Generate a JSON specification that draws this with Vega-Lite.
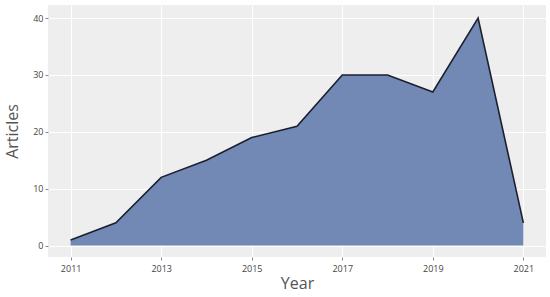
{
  "$schema": "https://vega.github.io/schema/vega-lite/v6.json",
  "autosize": "none",
  "width": 498,
  "height": 252,
  "padding": {"left": 48, "top": 5, "right": 4, "bottom": 40},
  "background": "white",
  "config": {
    "view": {"fill": "#eeeeee", "stroke": null},
    "axis": {
      "gridColor": "white",
      "gridWidth": 1,
      "domain": false,
      "tickColor": "#888888",
      "tickSize": 3,
      "labelColor": "#444444",
      "labelFont": "Open Sans",
      "labelFontSize": 9,
      "titleFont": "Open Sans",
      "titleFontWeight": "normal",
      "titleColor": "#555555",
      "titleFontSize": 16
    }
  },
  "data": {
    "values": [
      {"Year": 2011, "Articles": 1},
      {"Year": 2012, "Articles": 4},
      {"Year": 2013, "Articles": 12},
      {"Year": 2014, "Articles": 15},
      {"Year": 2015, "Articles": 19},
      {"Year": 2016, "Articles": 21},
      {"Year": 2017, "Articles": 30},
      {"Year": 2018, "Articles": 30},
      {"Year": 2019, "Articles": 27},
      {"Year": 2020, "Articles": 40},
      {"Year": 2021, "Articles": 4}
    ]
  },
  "encoding": {
    "x": {
      "field": "Year",
      "type": "quantitative",
      "scale": {"domain": [2010.5, 2021.5], "nice": false, "zero": false},
      "axis": {"values": [2011, 2013, 2015, 2017, 2019, 2021], "format": "d", "title": "Year", "titlePadding": 2, "labelPadding": 4}
    },
    "y": {
      "field": "Articles",
      "type": "quantitative",
      "scale": {"domain": [-2, 42.3], "nice": false, "zero": false},
      "axis": {"values": [0, 10, 20, 30, 40], "title": "Articles", "titlePadding": 12, "labelPadding": 2}
    }
  },
  "layer": [
    {
      "mark": {"type": "area", "color": "#7389b5", "opacity": 1},
      "encoding": {"y2": {"datum": 0}}
    },
    {
      "mark": {"type": "line", "color": "#1c1f2e", "strokeWidth": 1.6}
    }
  ]
}
